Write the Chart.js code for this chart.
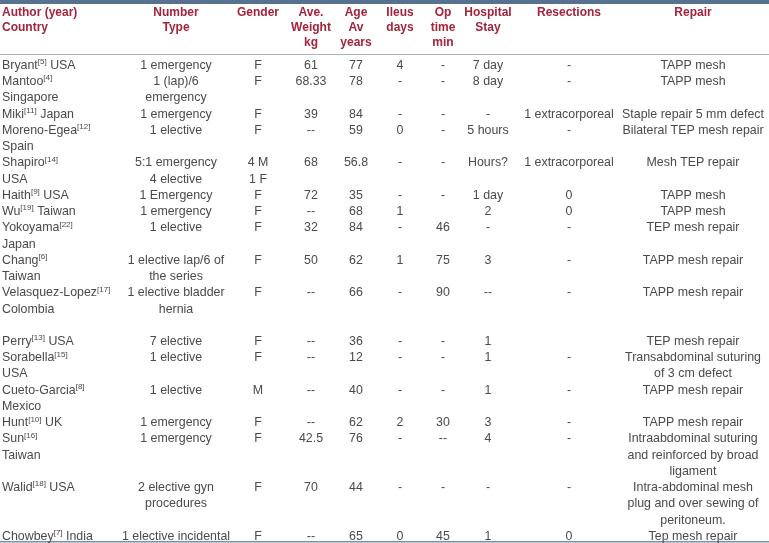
<!DOCTYPE html>
<html>
<head>
<meta charset="utf-8">
<script src="https://cdn.jsdelivr.net/npm/chart.js@4.4.1/dist/chart.umd.min.js"></script>
<style>
  html, body { margin: 0; padding: 0; background: #fff; }
  #wrap { width: 769px; height: 543px; }
</style>
</head>
<body>
<div id="wrap"><canvas id="table" width="769" height="543"></canvas></div>
<script>
// ── Data (one array per column; {n} = superscript reference) ──

const headers = [
  ['Author (year)', 'Country'],
  ['Number', 'Type'],
  ['Gender'],
  ['Ave.', 'Weight', 'kg'],
  ['Age', 'Av', 'years'],
  ['Ileus', 'days'],
  ['Op', 'time', 'min'],
  ['Hospital', 'Stay'],
  ['Resections'],
  ['Repair'],
]

const authors = [
  'Bryant{5} USA', ['Mantoo{4}', 'Singapore'], 'Miki{11} Japan', ['Moreno-Egea{12}', 'Spain'],
  ['Shapiro{14}', 'USA'], 'Haith{9} USA', 'Wu{19} Taiwan', ['Yokoyama{22}', 'Japan'],
  ['Chang{6}', 'Taiwan'], ['Velasquez-Lopez{17}', 'Colombia', ''], 'Perry{13} USA',
  ['Sorabella{15}', 'USA'], ['Cueto-Garcia{8}', 'Mexico'], 'Hunt{10} UK', ['Sun{16}', 'Taiwan'],
  'Walid{18} USA', 'Chowbey{7} India',
]
const numberType = [
  '1 emergency', ['1 (lap)/6', 'emergency'], '1 emergency', '1 elective',
  ['5:1 emergency', '4 elective'], '1 Emergency', '1 emergency', '1 elective',
  ['1 elective lap/6 of', 'the series'], ['1 elective bladder', 'hernia'], '7 elective',
  '1 elective', '1 elective', '1 emergency', '1 emergency',
  ['2 elective gyn', 'procedures'], '1 elective incidental',
]
const gender = ['F', 'F', 'F', 'F', ['4 M', '1 F'], 'F', 'F', 'F', 'F', 'F', 'F', 'F', 'M', 'F', 'F', 'F', 'F']
const weight = ['61', '68.33', '39', '--', '68', '72', '--', '32', '50', '--', '--', '--', '--', '--', '42.5', '70', '--']
const age = ['77', '78', '84', '59', '56.8', '35', '68', '84', '62', '66', '36', '12', '40', '62', '76', '44', '65']
const ileus = ['4', '-', '-', '0', '-', '-', '1', '-', '1', '-', '-', '-', '-', '2', '-', '-', '0']
const opTime = ['-', '-', '-', '-', '-', '-', '', '46', '75', '90', '-', '-', '-', '30', '--', '-', '45']
const stay = ['7 day', '8 day', '-', '5 hours', 'Hours?', '1 day', '2', '-', '3', '--', '1', '1', '1', '3', '4', '-', '1']
const resections = [
  '-', '-', '1 extracorporeal', '-', '1 extracorporeal', '0', '0', '-', '-', '-', '',
  '-', '-', '-', '-', '-', '0',
]
const repair = [
  'TAPP mesh', 'TAPP mesh', 'Staple repair 5 mm defect', 'Bilateral TEP mesh repair',
  'Mesh TEP repair', 'TAPP mesh', 'TAPP mesh', 'TEP mesh repair', 'TAPP mesh repair',
  'TAPP mesh repair', 'TEP mesh repair', ['Transabdominal suturing', 'of 3 cm defect'],
  'TAPP mesh repair', 'TAPP mesh repair',
  ['Intraabdominal suturing', 'and reinforced by broad', 'ligament'],
  ['Intra-abdominal mesh', 'plug and over sewing of', 'peritoneum.'],
  'Tep mesh repair',
]

const columns = [authors, numberType, gender, weight, age, ileus, opTime, stay, resections, repair]

// ── Layout ──

const colX = [2, 176, 258, 311, 356, 400, 443, 488, 569, 693]
const colAlign = ['left', 'center', 'center', 'center', 'center', 'center', 'center', 'center', 'center', 'center']
const headerLineY = [-3.27, -2.35, -1.43]
const HEAD_COLOR = '#a3233a'
const BODY_COLOR = '#4a4a4a'
const FONT = '"Liberation Sans", Arial, sans-serif'

const asLines = v => Array.isArray(v) ? v : [v]

// line index where each row starts
const rowStart = []
let line = 0
authors.forEach((_, i) => {
  rowStart.push(line)
  line += Math.max(...columns.map(c => asLines(c[i]).length))
})

function drawAuthor(ctx, text, x, y) {
  const parts = text.split(/\{(\d+)\}/)
  let cx = x
  parts.forEach((p, k) => {
    if (k % 2 === 1) {
      ctx.font = `8px ${FONT}`
      ctx.fillText(`[${p}]`, cx, y - 3.5)
      cx += ctx.measureText(`[${p}]`).width
    } else if (p) {
      ctx.font = `12.4px ${FONT}`
      ctx.fillText(p, cx, y)
      cx += ctx.measureText(p).width
    }
  })
}

const tablePlugin = {
  id: 'tablePlugin',
  afterDatasetsDraw(chart) {
    const { ctx, scales: { y }, chartArea } = chart
    ctx.save()

    // rules
    ctx.fillStyle = '#56728f'
    ctx.fillRect(chartArea.left, y.getPixelForValue(-4.03), chartArea.width, 4)
    ctx.fillStyle = '#a9b3bd'
    ctx.fillRect(chartArea.left, Math.round(y.getPixelForValue(-0.68)), chartArea.width, 1)
    ctx.fillStyle = '#7890a8'
    ctx.fillRect(chartArea.left, Math.round(y.getPixelForValue(29.28)), chartArea.width, 1.5)

    // header
    ctx.textBaseline = 'middle'
    ctx.fillStyle = HEAD_COLOR
    ctx.font = `bold 12px ${FONT}`
    headers.forEach((h, ci) => {
      ctx.textAlign = colAlign[ci]
      h.forEach((t, k) => ctx.fillText(t, colX[ci], y.getPixelForValue(headerLineY[k])))
    })

    // body cells, positioned from each dataset's points
    ctx.fillStyle = BODY_COLOR
    columns.forEach((col, ci) => {
      const meta = chart.getDatasetMeta(ci)
      ctx.textAlign = colAlign[ci]
      meta.data.forEach((pt, ri) => {
        asLines(col[ri]).forEach((t, k) => {
          const py = y.getPixelForValue(rowStart[ri] + k)
          if (ci === 0) {
            ctx.textAlign = 'left'
            drawAuthor(ctx, t, pt.x, py)
          } else {
            ctx.font = `12.4px ${FONT}`
            ctx.fillText(t, pt.x, py)
          }
        })
      })
    })
    ctx.restore()
  },
}

new Chart(document.getElementById('table'), {
  type: 'scatter',
  data: {
    datasets: columns.map((col, ci) => ({
      label: headers[ci].join(' '),
      data: col.map((_, ri) => ({ x: colX[ci], y: rowStart[ri] })),
      pointRadius: 0,
    })),
  },
  options: {
    responsive: false,
    animation: false,
    layout: { padding: 0 },
    plugins: { legend: { display: false }, tooltip: { enabled: false } },
    scales: {
      x: { type: 'linear', display: false, min: 0, max: 769 },
      y: { type: 'linear', display: false, reverse: true, min: -4.03, max: 29.40 },
    },
  },
  plugins: [tablePlugin],
})
</script>
</body>
</html>
